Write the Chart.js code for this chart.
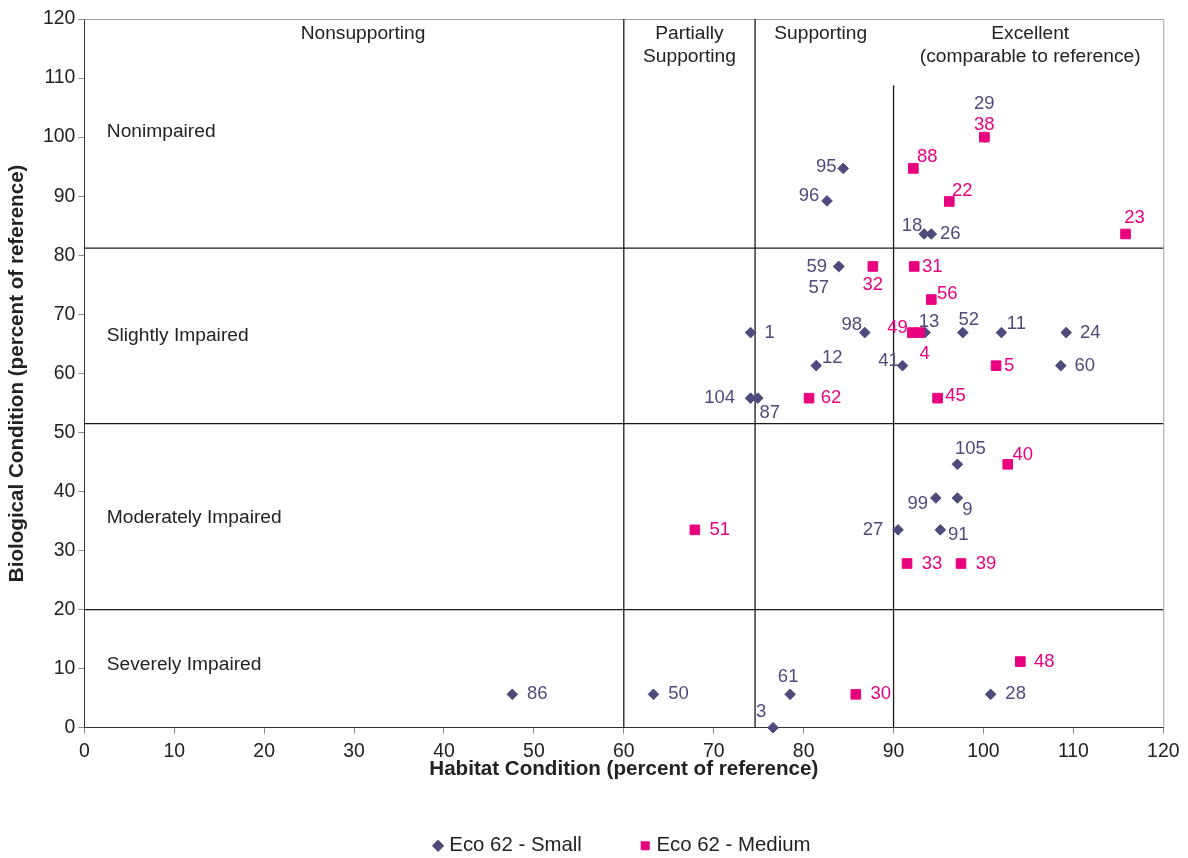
<!DOCTYPE html>
<html><head><meta charset="utf-8">
<script src="https://cdn.jsdelivr.net/npm/chart.js@4/dist/chart.umd.min.js"></script>
<style>html,body{margin:0;padding:0;background:#fff}</style>
</head><body>
<canvas id="c" width="1188" height="858"></canvas>
<script>
// ---- data ----
const smallIds     = ['95','96','18','26','29','59','57','1','98','13','52','11','24','12','41','60','104','87','105','99','9','27','91','86','50','61','3','28'];
const smallHabitat = [84.4,82.6,93.4,94.2,100.1,83.9,83.9,74.1,86.8,93.5,97.7,102.0,109.2,81.4,91.0,108.6,74.1,74.9,97.1,94.7,97.1,90.5,95.2,47.6,63.3,78.5,76.6,100.8];
const smallBio     = [94.7,89.2,83.6,83.6,100.0,78.1,78.1,66.9,66.9,66.9,66.9,66.9,66.9,61.3,61.3,61.3,55.8,55.8,44.6,38.9,38.9,33.5,33.5,5.65,5.65,5.65,0,5.65];

const mediumIds     = ['38','88','22','23','32','31','56','49','4','5','62','45','40','33','39','51','30','48'];
const mediumHabitat = [100.1,92.2,96.2,115.8,87.7,92.3,94.2,92.1,92.9,101.4,80.6,94.9,102.7,91.5,97.5,67.9,85.8,104.1];
const mediumBio     = [100.0,94.7,89.1,83.6,78.1,78.1,72.5,66.9,66.9,61.3,55.8,55.8,44.6,27.8,27.8,33.5,5.65,11.2];

const habitatCuts = [60, 74.6];        // full-height vertical dividers
const excellentCut = 90;               // vertical divider (partial height)
const excellentCutTop = 108.8;
const bioCuts = [81.2, 51.5, 20];      // horizontal dividers
const xTicksStep = 10, yTicksStep = 10;

// ---- label placement (pixel offsets from marker centre) ----
const smallLabelOffsets = [[-17,-2],[-18,-5],[-12,-8],[19,0],[0,-33],[-22,0],[-20,21],[19,0],[-13,-8],[4,-11],[6,-13],[15,-9],[24,0],[16,-8],[-14,-5],[24,0],[-31,0],[12,15],[13,-15],[-18,6],[10,12],[-25,0],[18,5],[25,0],[25,0],[-2,-17],[-12,-16],[25,0]];
const mediumLabelOffsets = [[0,-12],[14,-12],[13,-11],[9,-16],[0,18],[18,0],[16,-6],[-15,-5],[5,21],[13,0],[22,0],[18,-2],[15,-9],[25,0],[25,0],[25,0],[25,0],[24,0]];

const regionTexts = [
  {t:'Nonsupporting', x:31.0, y:117.5, a:'center'},
  {t:'Partially', x:67.3, y:117.5, a:'center'},
  {t:'Supporting', x:67.3, y:113.6, a:'center'},
  {t:'Supporting', x:81.9, y:117.5, a:'center'},
  {t:'Excellent', x:105.2, y:117.5, a:'center'},
  {t:'(comparable to reference)', x:105.2, y:113.6, a:'center'},
  {t:'Nonimpaired', x:2.5, y:100.9, a:'left'},
  {t:'Slightly Impaired', x:2.5, y:66.3, a:'left'},
  {t:'Moderately Impaired', x:2.5, y:35.5, a:'left'},
  {t:'Severely Impaired', x:2.5, y:10.6, a:'left'}
];

const FONT = "'Liberation Sans', Arial, sans-serif";
const SMALL_COLOR = '#4E4A7C';
const MEDIUM_COLOR = '#E9007F';

function divider(points){
  return {type:'scatter', label:'', data:points, showLine:true, borderColor:'#1a1a1a', borderWidth:1.3,
          pointRadius:0, pointHoverRadius:0, order:3, clip:false, isDivider:true};
}
const dividerSets = [];
habitatCuts.forEach(v => dividerSets.push(divider([{x:v,y:0},{x:v,y:120}])));
dividerSets.push(divider([{x:excellentCut,y:0},{x:excellentCut,y:excellentCutTop}]));
bioCuts.forEach(v => dividerSets.push(divider([{x:0,y:v},{x:120,y:v}])));

const smallData = smallHabitat.map((x,i)=>({x, y:smallBio[i]}));
const mediumData = mediumHabitat.map((x,i)=>({x, y:mediumBio[i]}));

const frameLines = {
  id:'frameLines',
  beforeDatasetsDraw(chart){
    const {ctx, chartArea:a} = chart;
    ctx.save();
    ctx.strokeStyle = '#a0a0a0'; ctx.lineWidth = 1;
    ctx.beginPath();
    ctx.moveTo(a.left, a.top+0.5); ctx.lineTo(a.right+0.5, a.top+0.5); ctx.lineTo(a.right+0.5, a.bottom);
    ctx.stroke();
    const xs = chart.scales.x, ys = chart.scales.y;
    ctx.fillStyle = '#222'; ctx.font = '19.2px ' + FONT; ctx.textBaseline = 'middle';
    regionTexts.forEach(r => {
      ctx.textAlign = r.a;
      ctx.fillText(r.t, xs.getPixelForValue(r.x), ys.getPixelForValue(r.y));
    });
    ctx.restore();
  }
};

const pointLabels = {
  id:'pointLabels',
  afterDatasetsDraw(chart){
    const ctx = chart.ctx;
    chart.data.datasets.forEach((ds, di) => {
      if (!ds.pointLabels) return;
      const meta = chart.getDatasetMeta(di);
      ctx.save();
      ctx.font = '18.5px ' + FONT; ctx.fillStyle = ds.labelColor;
      ctx.textAlign = 'center'; ctx.textBaseline = 'middle';
      meta.data.forEach((el, i) => {
        const o = ds.labelOffsets[i];
        ctx.fillText(ds.pointLabels[i], el.x + o[0], el.y + o[1]);
      });
      ctx.restore();
    });
  }
};

new Chart(document.getElementById('c'), {
  type:'scatter',
  data:{ datasets:[
    ...dividerSets,
    {label:'Eco 62 - Small', data:smallData, pointStyle:'rectRot', pointRadius:5.3, pointHoverRadius:5.3,
     backgroundColor:SMALL_COLOR, borderColor:SMALL_COLOR, borderWidth:1, order:1, clip:false,
     pointLabels:smallIds, labelOffsets:smallLabelOffsets, labelColor:SMALL_COLOR},
    {label:'Eco 62 - Medium', data:mediumData, pointStyle:'rect', pointRadius:6.8, pointHoverRadius:6.8,
     backgroundColor:MEDIUM_COLOR, borderColor:MEDIUM_COLOR, borderWidth:1, order:0, clip:false,
     pointLabels:mediumIds, labelOffsets:mediumLabelOffsets, labelColor:MEDIUM_COLOR}
  ]},
  options:{
    responsive:false, animation:false, devicePixelRatio:1,
    layout:{padding:{top:19, right:24.7, bottom:-8, left:0}},
    plugins:{
      tooltip:{enabled:false},
      legend:{
        position:'bottom', fullSize:false,
        labels:{
          usePointStyle:true, boxWidth:2, boxHeight:8, padding:0,
          font:{family:FONT, size:20.4}, color:'#222',
          filter:(item, data) => !data.datasets[item.datasetIndex].isDivider,
          sort:(a, b) => a.datasetIndex - b.datasetIndex,
          generateLabels:(chart) => {
            const items = Chart.defaults.plugins.legend.labels.generateLabels(chart);
            items.forEach(it => { if (it.text === 'Eco 62 - Small') it.text = it.text + '\u00a0'.repeat(11); });
            return items;
          }
        }
      }
    },
    scales:{
      x:{type:'linear', min:0, max:120, position:'bottom',
        ticks:{stepSize:xTicksStep, font:{family:FONT, size:19.4}, color:'#222', padding:6, maxRotation:0},
        grid:{drawOnChartArea:false, drawTicks:true, tickLength:6, color:'#8a8a8a'},
        border:{display:true, color:'#333', width:1},
        title:{display:true, text:'Habitat Condition (percent of reference)', color:'#222',
               font:{family:FONT, size:20.6, weight:'bold'}, padding:{top:4, bottom:54}},
        afterFit(s){ s.height = 107.9; }
      },
      y:{type:'linear', min:0, max:120, position:'left',
        ticks:{stepSize:yTicksStep, font:{family:FONT, size:19.4}, color:'#222', padding:3},
        grid:{drawOnChartArea:false, drawTicks:true, tickLength:6, color:'#8a8a8a'},
        border:{display:true, color:'#333', width:1},
        title:{display:true, text:'Biological Condition (percent of reference)', color:'#222',
               font:{family:FONT, size:20.6, weight:'bold'}, padding:{top:4.6, bottom:4}},
        afterFit(s){ s.width = 84.3; }
      }
    }
  },
  plugins:[frameLines, pointLabels]
});
</script>
</body></html>
